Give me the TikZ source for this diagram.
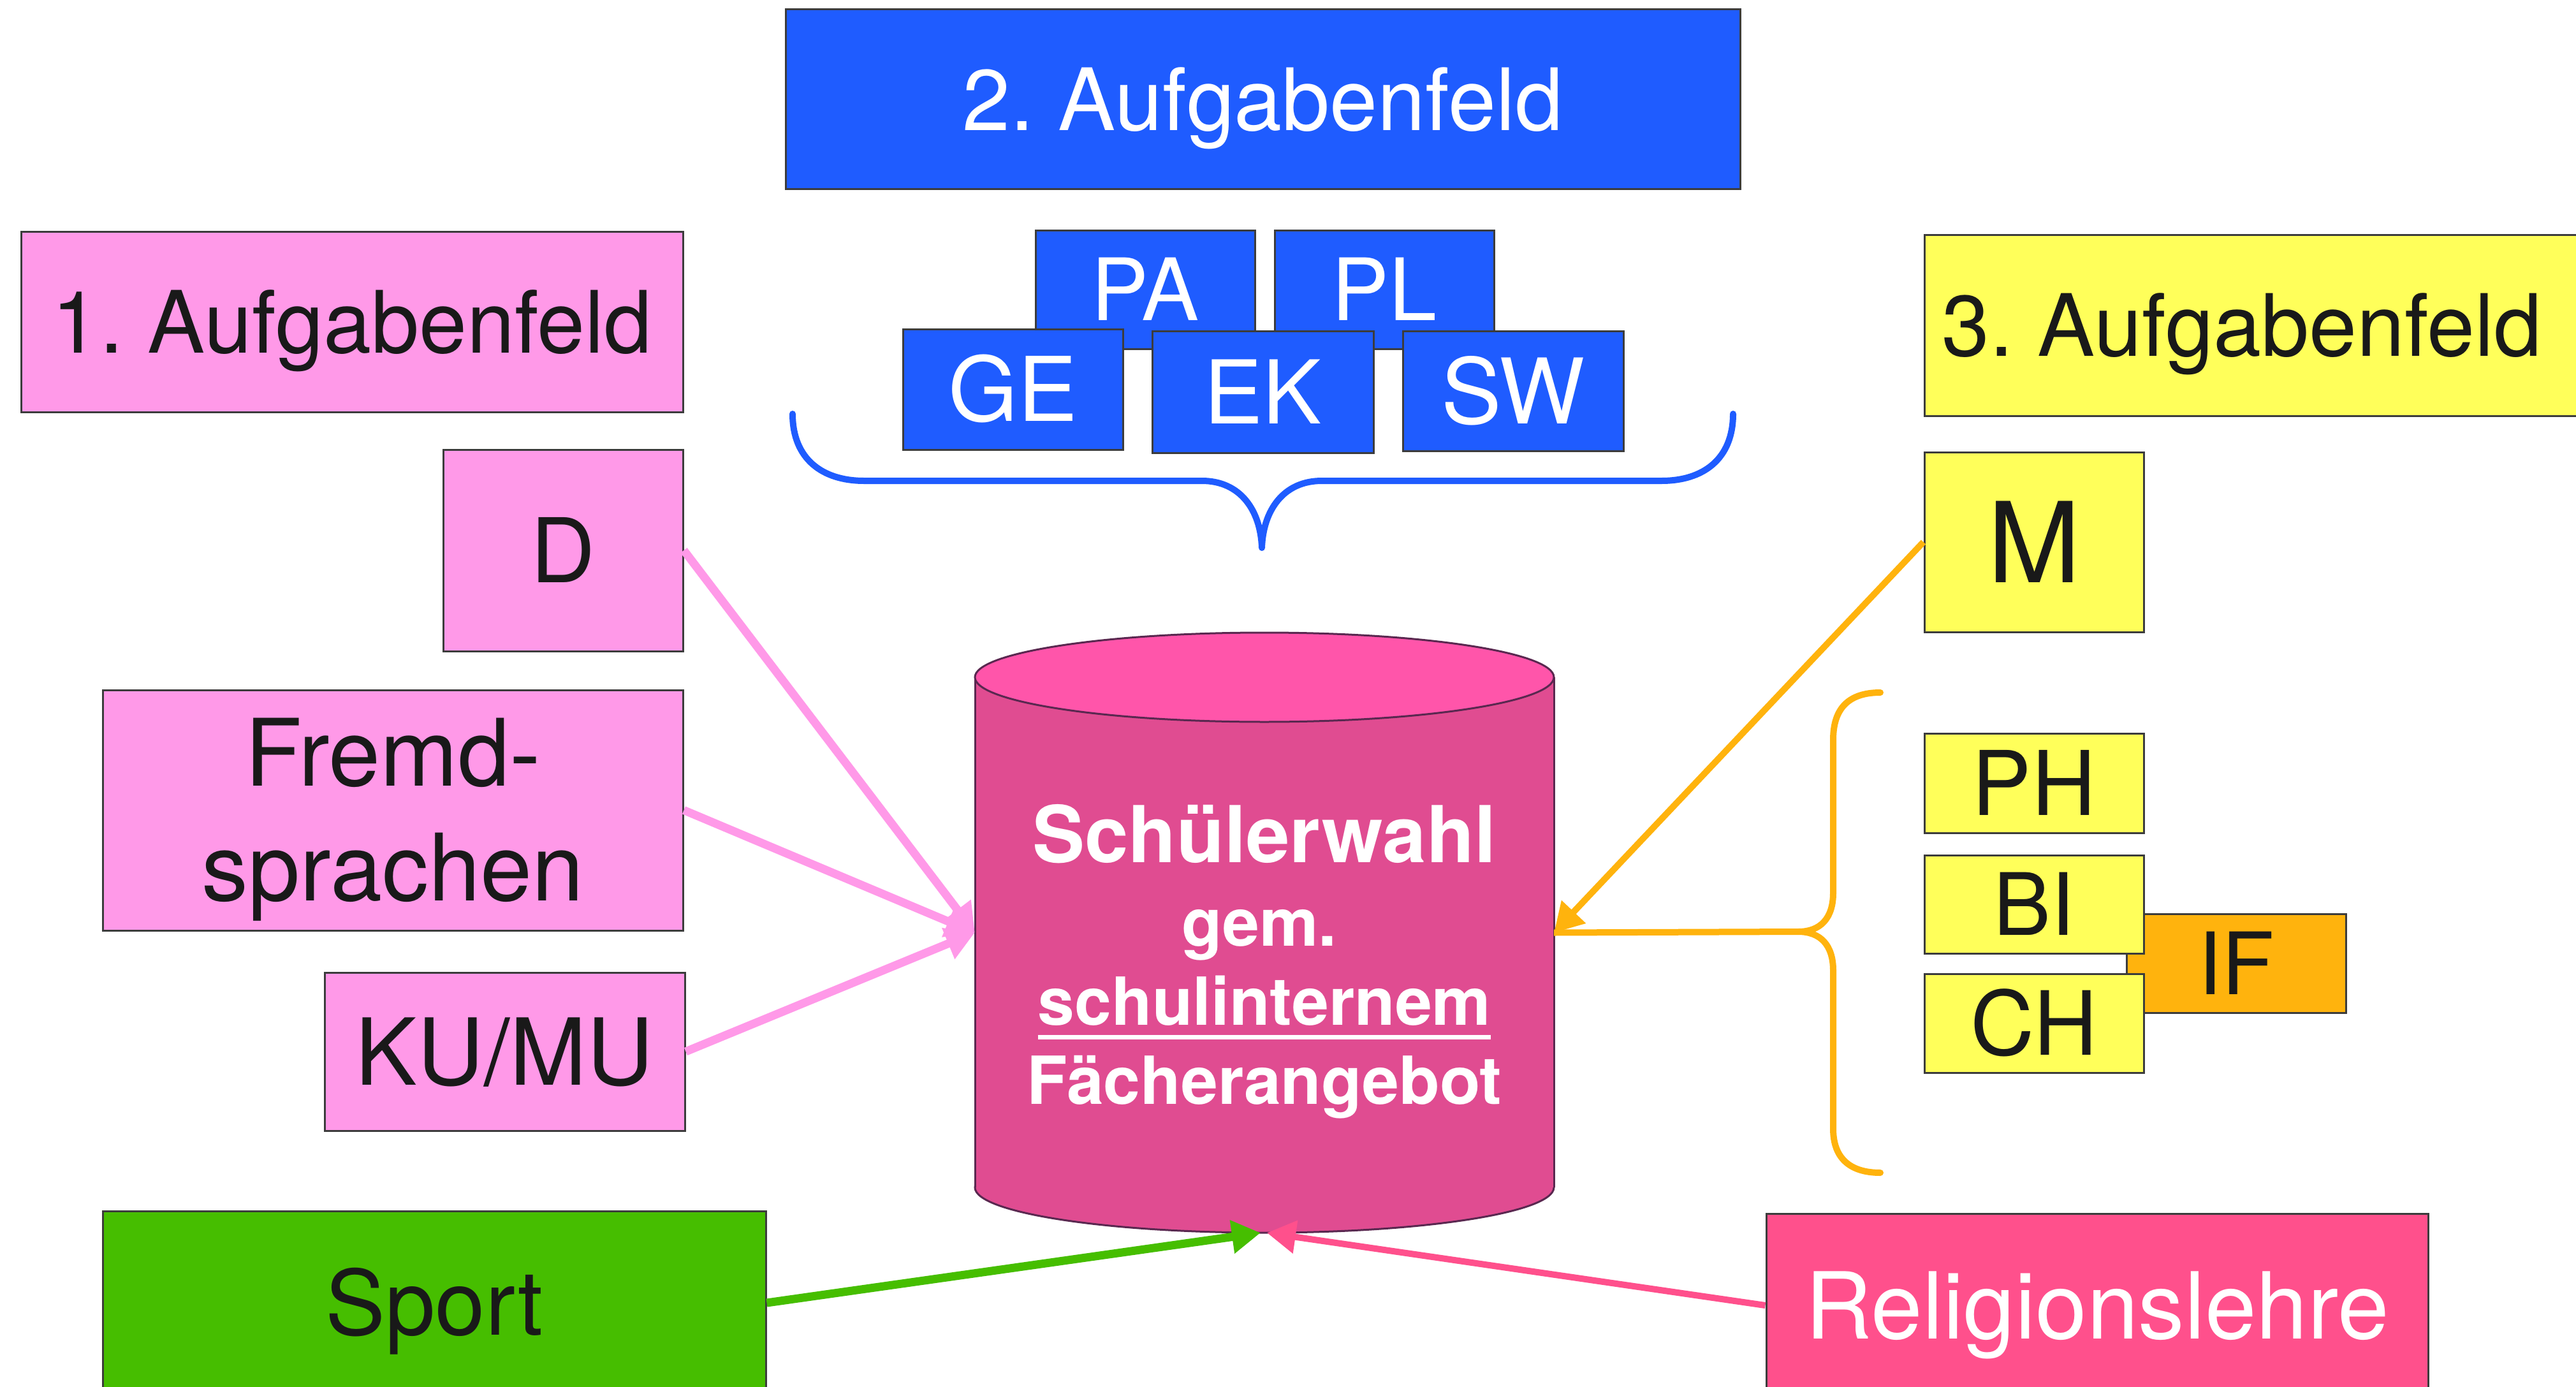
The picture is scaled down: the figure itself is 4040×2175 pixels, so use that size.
\documentclass[tikz,border=0pt]{standalone}
\usepackage{fontspec}
\setmainfont{TeX Gyre Heros}
\usetikzlibrary{arrows.meta}
\definecolor{cblue}{RGB}{31,92,255}
\definecolor{cpink}{RGB}{255,153,232}
\definecolor{cyellow}{RGB}{255,255,90}
\definecolor{cgreen}{RGB}{70,190,0}
\definecolor{corange}{RGB}{255,179,13}
\definecolor{crel}{RGB}{255,80,140}
\definecolor{cylside}{RGB}{224,76,145}
\definecolor{cyltop}{RGB}{255,85,170}
\definecolor{cylline}{RGB}{90,40,80}
\definecolor{boxline}{RGB}{60,60,60}
\definecolor{ctext}{RGB}{25,25,25}
\newcommand\myfs[1]{\fontsize{#1}{#1}\selectfont}
\frenchspacing
\begin{document}
\begin{tikzpicture}[x=1pt,y=-1pt,
  box/.style={draw=boxline, line width=3pt, inner sep=0pt, rectangle, text=ctext,
    font=\myfs{135}, text height=97pt, text depth=0pt},
  lbl/.style={inner sep=0pt, text=ctext, font=\myfs{146}},
  cyltext/.style={inner sep=0pt, anchor=base, text=white, font=\bfseries\myfs{104}},
  tip/.style={-{Triangle[length=45pt,width=50pt]}},
  pinkline/.style={tip, draw=cpink, line width=13pt},
  orangeline/.style={draw=corange, line width=10pt},
  greenline/.style={tip, draw=cgreen, line width=13pt},
  relline/.style={tip, draw=crel, line width=10pt},
  bracestyle/.style={line width=10pt, line cap=round, line join=round}
]
\useasboundingbox (0,0) rectangle (4040,2175);

% 2. Aufgabenfeld
\node[box, fill=cblue, text=white, minimum width=1497pt, minimum height=282pt] (a2) at (1980.5,156) {2. Aufgabenfeld};
\node[box, fill=cblue, text=white, minimum width=344pt, minimum height=186pt] (pa) at (1796,454) {PA};
\node[box, fill=cblue, text=white, minimum width=344pt, minimum height=186pt] (pl) at (2171,454) {PL};
\node[box, fill=cblue, text=white, minimum width=345pt, minimum height=189pt, font=\myfs{140}, text height=100pt] (ge) at (1588.5,610.5) {GE};
\node[box, fill=cblue, text=white, minimum width=347pt, minimum height=191pt, font=\myfs{138}, text height=99pt] (ek) at (1980.5,614.5) {EK};
\node[box, fill=cblue, text=white, minimum width=346pt, minimum height=188pt, font=\myfs{142}, text height=102pt] (sw) at (2373,613) {SW};
\draw[bracestyle, cblue] (1243,649) .. controls (1243,720) and (1290,754) .. (1355,754) -- (1885,754)
  .. controls (1945,754) and (1977,800) .. (1979,859)
  .. controls (1981,800) and (2013,754) .. (2073,754) -- (2606,754)
  .. controls (2671,754) and (2718,720) .. (2718,649);

% 1. Aufgabenfeld
\node[box, fill=cpink, minimum width=1038pt, minimum height=283pt] (a1) at (552,504.5) {1. Aufgabenfeld};
\node[box, fill=cpink, minimum width=376pt, minimum height=316pt, font=\myfs{140}, text height=100pt] (d) at (883,863) {D};
\node[box, fill=cpink, minimum width=910pt, minimum height=377pt] (fs) at (616,1270.5) {};
\node[lbl, anchor=base] (fs1) at (616,1232) {Fremd-};
\node[lbl, anchor=base] (fs2) at (616,1412) {sprachen};
\node[box, fill=cpink, minimum width=565pt, minimum height=248pt, font=\myfs{145}, text height=104pt] (ku) at (791.5,1649) {KU/MU};

% Sport / Religion
\node[box, fill=cgreen, minimum width=1040pt, minimum height=288pt, font=\myfs{141}, text height=101pt] (sport) at (681,2043) {Sport};
\node[box, fill=crel, text=white, minimum width=1038pt, minimum height=288pt, font=\myfs{145}, text height=104pt] (rel) at (3289,2047) {Religionslehre};

% 3. Aufgabenfeld
\node[box, fill=cyellow, minimum width=1052pt, minimum height=284pt] (a3) at (3544,510) {};
\node[lbl, font=\myfs{135}, text height=97pt, text depth=0pt] (a3t) at (3516,510) {3. Aufgabenfeld};
\node[box, fill=cyellow, minimum width=344pt, minimum height=282pt, font=\myfs{175}, text height=126pt] (m) at (3190,850) {M};
\node[box, fill=cyellow, minimum width=344pt, minimum height=156pt, font=\myfs{140}, text height=100pt] (ph) at (3190,1228) {PH};
\node[box, fill=corange, minimum width=344pt, minimum height=155pt] (if) at (3507,1510.5) {IF};
\node[box, fill=cyellow, minimum width=344pt, minimum height=154pt] (bi) at (3190,1418) {BI};
\node[box, fill=cyellow, minimum width=344pt, minimum height=155pt, font=\myfs{139}, text height=100pt] (ch) at (3190,1604.5) {CH};
\coordinate (ocusp) at (2820,1461);
\draw[bracestyle, corange] (2949,1086) .. controls (2900,1086) and (2875,1110) .. (2875,1160) -- (2875,1400)
  .. controls (2875,1440) and (2855,1461) .. (ocusp)
  .. controls (2855,1461) and (2875,1482) .. (2875,1522) -- (2875,1770)
  .. controls (2875,1815) and (2900,1839) .. (2949,1839);

% Cylinder
\filldraw[fill=cylside, draw=cylline, line width=3pt] (1983,1862) ellipse [x radius=454, y radius=71];
\fill[cylside] (1529,1062) rectangle (2437,1862);
\draw[cylline, line width=3pt] (1529,1062) -- (1529,1862) (2437,1062) -- (2437,1862);
\filldraw[fill=cyltop, draw=cylline, line width=3pt] (1983,1062) ellipse [x radius=454, y radius=70];
\node[inner sep=0pt, minimum width=908pt, minimum height=941pt] (cyl) at (1983,1462.5) {};
\node[cyltext, font=\bfseries\myfs{123}] (t1) at (1983,1352) {Schülerwahl};
\node[cyltext] (t2) at (1975,1483) {gem.};
\node[cyltext] (t3) at (1983,1607) {schulinternem};
\node[cyltext] (t4) at (1983,1731) {Fächerangebot};
\draw[white, line width=7pt] ([yshift=-19pt]t3.base west) -- ([yshift=-19pt]t3.base east);

% Connectors
\draw[pinkline] (d.east) -- (cyl.west);
\draw[pinkline] (fs.east) -- (cyl.west);
\draw[pinkline] (ku.east) -- (cyl.west);
\draw[orangeline] (ocusp) -- (cyl.east);
\draw[orangeline, tip] (m.west) -- (cyl.east);
\draw[greenline] (sport.east) -- ([xshift=-6pt]cyl.south);
\draw[relline] (rel.west) -- ([xshift=4pt]cyl.south);
\end{tikzpicture}
\end{document}
